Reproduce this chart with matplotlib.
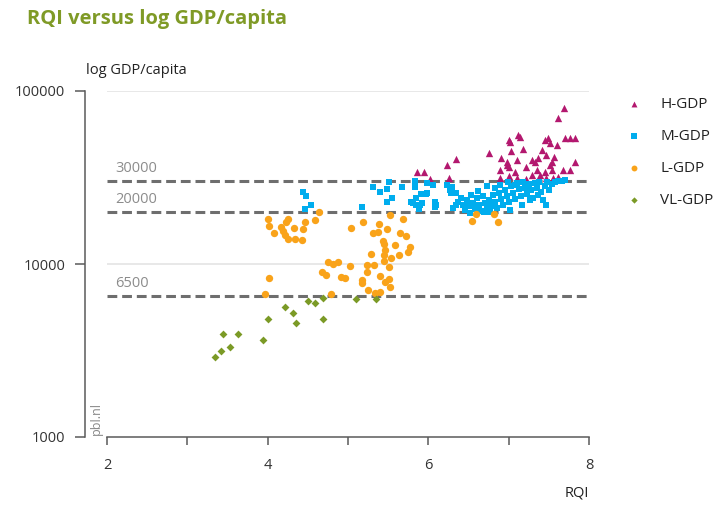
import numpy as np
import matplotlib.pyplot as plt
from matplotlib.ticker import FixedLocator, NullLocator, FixedFormatter

plt.rcParams['font.family'] = ['Open Sans', 'DejaVu Sans']

# values: RQI score vs GDP per capita
rqi_h = [5.86, 5.94, 6.23, 6.34, 6.02, 6.26, 6.75, 6.89, 6.91, 6.98, 7.00, 7.02, 7.03,
         6.98, 7.01, 7.08, 7.10, 7.12, 7.14, 7.18, 7.00, 7.22, 7.29, 7.33, 7.37, 7.41,
         7.29, 7.35, 7.39, 7.45, 7.49, 7.51, 7.60, 7.47, 7.54, 7.56, 7.54, 7.45, 7.51,
         7.62, 7.68, 7.70, 7.76, 7.83, 7.62, 7.69, 7.76, 7.83, 7.47, 7.10, 6.89, 7.21,
         7.55]
gdp_h = [34100, 34100, 37400, 40300, 30900, 31500, 43600, 34900, 40900, 39000, 52100,
         50900, 44700, 37400, 36200, 34100, 39900, 55700, 54400, 46000, 32200, 36500,
         39900, 39000, 40900, 45600, 32700, 34900, 32700, 52100, 53300, 50000, 48700,
         42700, 39000, 41700, 34900, 34100, 37400, 31900, 34900, 53300, 53300, 53300,
         69600, 79500, 34900, 39000, 31400, 31400, 31400, 31200, 31400]

rqi_m = [4.44, 4.48, 4.54, 4.46,
         5.17, 5.31, 5.40, 5.49, 5.51, 5.55, 5.49, 5.67, 5.83, 5.79, 5.85, 5.91, 5.97,
         5.88, 5.89, 5.85, 5.83, 5.81, 5.90, 6.08, 6.06, 5.98, 6.23, 6.27, 6.29, 6.08,
         6.10, 6.28, 6.33, 6.34, 6.31, 5.98, 5.92,
         6.41, 6.43, 6.46, 6.48, 6.51, 6.53, 6.56, 6.58, 6.61, 6.63, 6.66, 6.68, 6.71,
         6.73, 6.76, 6.78, 6.81, 6.83, 6.86, 6.88, 6.90, 6.93, 6.95, 6.98, 7.00, 7.03,
         7.05, 7.08, 7.10, 7.13, 7.15, 7.18, 7.20, 7.23, 7.25, 7.28, 7.30, 7.33, 7.35,
         7.38, 7.40, 7.43, 7.45, 7.48, 7.50, 7.54, 7.58, 7.61, 7.66, 7.70, 7.46, 7.17,
         7.02, 6.77, 6.52, 6.89, 6.99, 6.62, 6.73, 6.83, 6.69, 6.37, 6.34, 7.27, 7.37,
         7.08]
gdp_m = [26100, 24700, 21900, 20800,
         21400, 27900, 26100, 27200, 29800, 24100, 22800, 27900, 30000, 22800, 24100,
         25400, 25400, 21400, 20700, 21900, 27900, 22500, 21900, 21400, 28600, 29200,
         28600, 26800, 27900, 22900, 21800, 25700, 25700, 21900, 21000, 25700, 22500,
         24100, 21900, 20500, 23400, 21600, 25100, 22500, 20800, 24100, 21900, 20200,
         24700, 22500, 21100, 23400, 21600, 25100, 22800, 21100, 25700, 23800, 21900,
         26800, 24700, 22800, 28300, 25700, 23800, 29400, 27200, 24700, 29800, 27500,
         25400, 29000, 26800, 24100, 29400, 27500, 29800, 26100, 23400, 28300, 29800,
         26800, 29000, 29800, 30200, 30200, 30600, 22000, 21900, 20500, 20000, 19700,
         28600, 29800, 26400, 28300, 27500, 20000, 22800, 25700, 23400, 25100, 28600]

rqi_l = [4.00, 4.02, 4.08, 4.17, 4.19, 4.22, 4.25, 4.23, 4.25, 4.33, 4.34, 4.43, 4.44,
         4.46, 4.59, 4.64, 4.02, 3.97,
         4.75, 4.81, 4.88, 4.68, 4.73, 4.91, 4.96, 5.02, 4.79, 5.04, 5.19, 5.17, 5.17,
         5.24, 5.25, 5.34, 5.40, 5.24, 5.32, 5.29, 5.31, 5.37, 5.39, 5.44, 5.45, 5.46,
         5.45, 5.45, 5.51, 5.54, 5.59, 5.64, 5.65, 5.49, 5.52, 5.68, 5.72, 5.77, 5.75,
         5.40, 5.46, 5.51, 5.52,
         6.54, 6.59, 6.82, 6.87]
gdp_l = [18200, 16600, 15100, 16400, 15500, 14700, 14000, 17500, 18200, 16100, 14000,
         13800, 15900, 17500, 17900, 20000, 8300, 6710,
         10300, 10000, 10300, 8990, 8640, 8410, 8300, 9730, 6710, 16100, 17500, 8090,
         7770, 8990, 7080, 6800, 6890, 9860, 9860, 11400, 15100, 15300, 17000, 13600,
         13100, 12100, 11300, 10400, 9610, 10800, 12900, 11300, 15100, 15900, 19200,
         18200, 14500, 12500, 11700, 8530, 7870, 8190, 7360,
         17700, 19500, 19500, 17500]

rqi_vl = [3.34, 3.42, 3.44, 3.53, 3.63, 3.94, 4.00, 4.22, 4.32, 4.35, 4.50, 4.59, 4.69,
          4.69, 5.10, 5.35]
gdp_vl = [2900, 3140, 3940, 3310, 3940, 3640, 4810, 5640, 5210, 4560, 6110, 5950, 6360,
          4810, 6280, 6280]

thresholds = [30000, 20000, 6500]

fig = plt.figure(figsize=(7.24, 5.07), dpi=100)
ax = fig.add_axes([107 / 724, 70 / 507, 482 / 724, 346 / 507])

ax.set_yscale('log')
ax.set_xlim(2, 8)
ax.set_ylim(1000, 100000)

# light grid at the decades
for v in [10000, 100000]:
    ax.axhline(v, color='#e4e4e4', lw=1.2, zorder=0)

# GDP class boundaries
for v in thresholds:
    ax.axhline(v, color='#6e6e6e', lw=2.2, ls=(0, (3.2, 1.6)), zorder=1)
    ax.text(2.1, v * 1.07, str(v), color='#8c8c8c', fontsize=10.5,
            ha='left', va='bottom')

ax.scatter(rqi_h, gdp_h, marker='^', s=28, color='#b3186f', lw=0, zorder=3, label='H-GDP')
ax.scatter(rqi_m, gdp_m, marker='s', s=24, color='#00adee', lw=0, zorder=3, label='M-GDP')
ax.scatter(rqi_l, gdp_l, marker='o', s=28, color='#f9a31a', lw=0, zorder=3, label='L-GDP')
ax.scatter(rqi_vl, gdp_vl, marker='D', s=16, color='#7b9a26', lw=0, zorder=3, label='VL-GDP')

for side in ['top', 'right']:
    ax.spines[side].set_visible(False)
ax.spines['left'].set_position(('outward', 16))
for side in ['left', 'bottom']:
    ax.spines[side].set_color('#5a5a5a')
    ax.spines[side].set_linewidth(1.1)

ax.yaxis.set_major_locator(FixedLocator([1000, 10000, 100000]))
ax.yaxis.set_major_formatter(FixedFormatter(['1000', '10000', '100000']))
ax.yaxis.set_minor_locator(NullLocator())
ax.xaxis.set_major_locator(FixedLocator([2, 4, 6, 8]))
ax.xaxis.set_minor_locator(FixedLocator([3, 5, 7]))
ax.tick_params(axis='y', length=7, width=1.1, color='#5a5a5a', pad=7,
               labelsize=10.5, labelcolor='#333333')
ax.tick_params(axis='x', which='both', length=6, width=1.1, color='#5a5a5a',
               pad=9, labelsize=10.5, labelcolor='#333333')

fig.text(27 / 724, 1 - 19 / 507, 'RQI versus log GDP/capita', color='#7f9a26',
         fontsize=14.5, fontweight='bold', ha='left', va='center')
fig.text(86 / 724, 1 - 70 / 507, 'log GDP/capita', color='#222222', fontsize=10.5,
         ha='left', va='center')
fig.text(589 / 724, 1 - 493 / 507, 'RQI', color='#222222', fontsize=10.5,
         ha='right', va='center')
fig.text(96 / 724, 1 - 435 / 507, 'pbl.nl', color='#888888', fontsize=9,
         rotation=90, ha='center', va='bottom')

ax.legend(loc='upper left', bbox_to_anchor=(613 / 724, 1 - 83 / 507),
          bbox_transform=fig.transFigure, frameon=False, fontsize=11,
          labelspacing=1.12, handlelength=1.0, handletextpad=1.2,
          markerscale=0.8, labelcolor='#222222')

fig.savefig('out.png', dpi=100)
